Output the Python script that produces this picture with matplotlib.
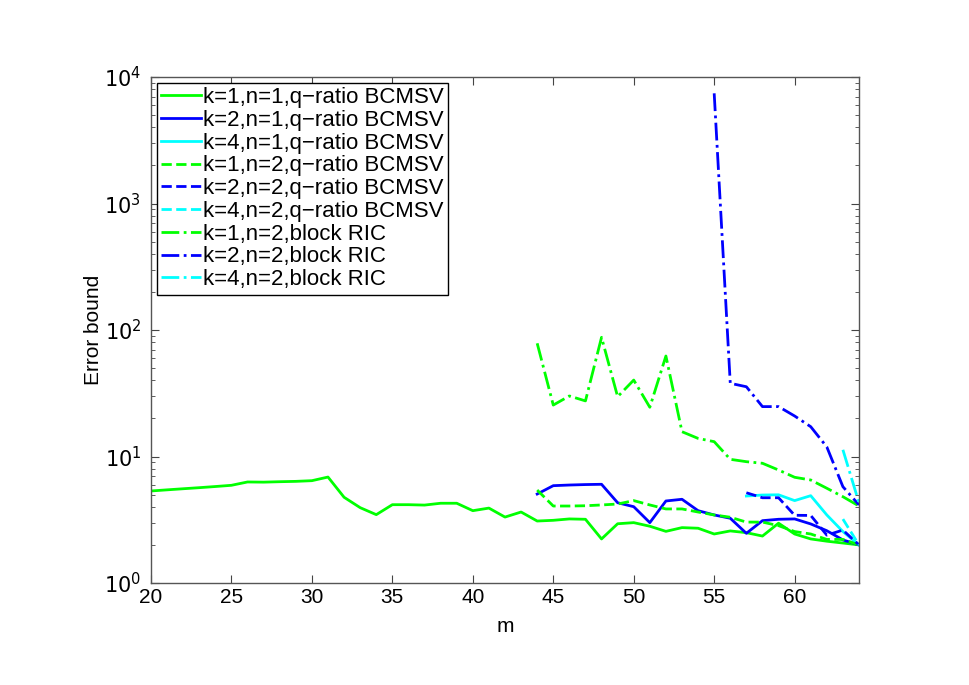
import matplotlib
matplotlib.use("Agg")
import matplotlib.pyplot as plt
import numpy as np

plt.rcParams["font.family"] = ["Liberation Sans", "DejaVu Sans"]

# ── Data ───────────────────────────────────────────────────────────────────────
m_k1n1 = list(range(20, 65))
k1n1_bcmsv = [5.34, 5.45, 5.56, 5.67, 5.79, 5.92, 6.29, 6.27, 6.32, 6.36,
              6.44, 6.88, 4.76, 3.94, 3.47, 4.16, 4.16, 4.13, 4.27, 4.27,
              3.73, 3.91, 3.32, 3.64, 3.09, 3.13, 3.21, 3.19, 2.23, 2.94,
              3.00, 2.81, 2.56, 2.74, 2.71, 2.44, 2.58, 2.50, 2.35, 2.97,
              2.44, 2.23, 2.14, 2.07, 2.00]

m_44 = list(range(44, 65))
k2n1_bcmsv = [5.05, 5.88, 5.95, 6.00, 6.03, 4.31, 4.01, 3.00, 4.45, 4.59,
              3.73, 3.45, 3.25, 2.47, 3.11, 3.19, 3.21, 2.93, 2.59, 2.19, 2.00]
k1n2_bcmsv = [5.43, 4.06, 4.06, 4.08, 4.14, 4.21, 4.48, 4.14, 3.85, 3.85,
              3.64, 3.45, 3.31, 3.03, 3.03, 2.84, 2.55, 2.44, 2.21, 2.21, 2.00]
k1n2_ric = [78.5, 25.5, 30.1, 27.5, 87.5, 29.7, 40.2, 24.5, 62.3, 15.7,
            13.9, 13.1, 9.5, 9.1, 8.84, 7.82, 6.85, 6.52, 5.61, 4.81, 4.06]

m_57 = list(range(57, 65))
k4n1_bcmsv = [4.87, 4.96, 4.98, 4.48, 4.90, 3.45, 2.55, 2.00]
k2n2_bcmsv = [5.17, 4.72, 4.72, 3.43, 3.42, 2.39, 2.62, 2.00]

m_63 = [63, 64]
k4n2_bcmsv = [3.2, 2.0]
k4n2_ric = [11.3, 4.3]

m_55 = list(range(55, 65))
k2n2_ric = [7430, 37.9, 35.6, 24.8, 24.8, 20.9, 17.2, 11.9, 5.77, 4.14]

GREEN, BLUE, CYAN = (0, 1, 0), (0, 0, 1), (0, 1, 1)
LW = 2.0

# ── Figure ─────────────────────────────────────────────────────────────────────
fig = plt.figure(figsize=(9.69, 6.85), dpi=100)
ax = fig.add_axes([151 / 969, 1 - 583 / 685, 708 / 969, 506 / 685])

ax.plot(m_k1n1, k1n1_bcmsv, "-", color=GREEN, lw=LW, label="k=1,n=1,q\u2212ratio BCMSV")
ax.plot(m_44, k2n1_bcmsv, "-", color=BLUE, lw=LW, label="k=2,n=1,q\u2212ratio BCMSV")
ax.plot(m_57, k4n1_bcmsv, "-", color=CYAN, lw=LW, label="k=4,n=1,q\u2212ratio BCMSV")
ax.plot(m_44, k1n2_bcmsv, "--", color=GREEN, lw=LW, label="k=1,n=2,q\u2212ratio BCMSV")
ax.plot(m_57, k2n2_bcmsv, "--", color=BLUE, lw=LW, label="k=2,n=2,q\u2212ratio BCMSV")
ax.plot(m_63, k4n2_bcmsv, "--", color=CYAN, lw=LW, label="k=4,n=2,q\u2212ratio BCMSV")
ax.plot(m_44, k1n2_ric, "-.", color=GREEN, lw=LW, label="k=1,n=2,block RIC")
ax.plot(m_55, k2n2_ric, "-.", color=BLUE, lw=LW, label="k=2,n=2,block RIC")
ax.plot(m_63, k4n2_ric, "-.", color=CYAN, lw=LW, label="k=4,n=2,block RIC")

ax.set_yscale("log")
ax.set_xlim(20, 64)
ax.set_ylim(1, 1e4)
ax.set_xticks([20, 25, 30, 35, 40, 45, 50, 55, 60])
ax.set_yticks([1, 10, 100, 1000, 10000])
ax.set_yticklabels([r"$10^{0}$", r"$10^{1}$", r"$10^{2}$", r"$10^{3}$", r"$10^{4}$"])

ax.tick_params(which="both", direction="in", top=True, right=True,
               labelsize=15, color="#444444")
ax.tick_params(axis="y", pad=7)
ax.tick_params(which="major", length=6)
ax.tick_params(which="minor", length=3)
for s in ax.spines.values():
    s.set_color("#555555")
    s.set_linewidth(1.0)

ax.set_xlabel("m", fontsize=15, labelpad=7)
ax.set_ylabel("Error bound", fontsize=15, labelpad=1)

leg = ax.legend(loc="upper left", fontsize=16, handlelength=1.8,
                handletextpad=0.1, labelspacing=0.08, borderpad=0.2,
                borderaxespad=0.25, fancybox=False, framealpha=1)
leg.get_frame().set_edgecolor("black")
leg.get_frame().set_linewidth(1.0)

fig.savefig("out.png", dpi=100)
